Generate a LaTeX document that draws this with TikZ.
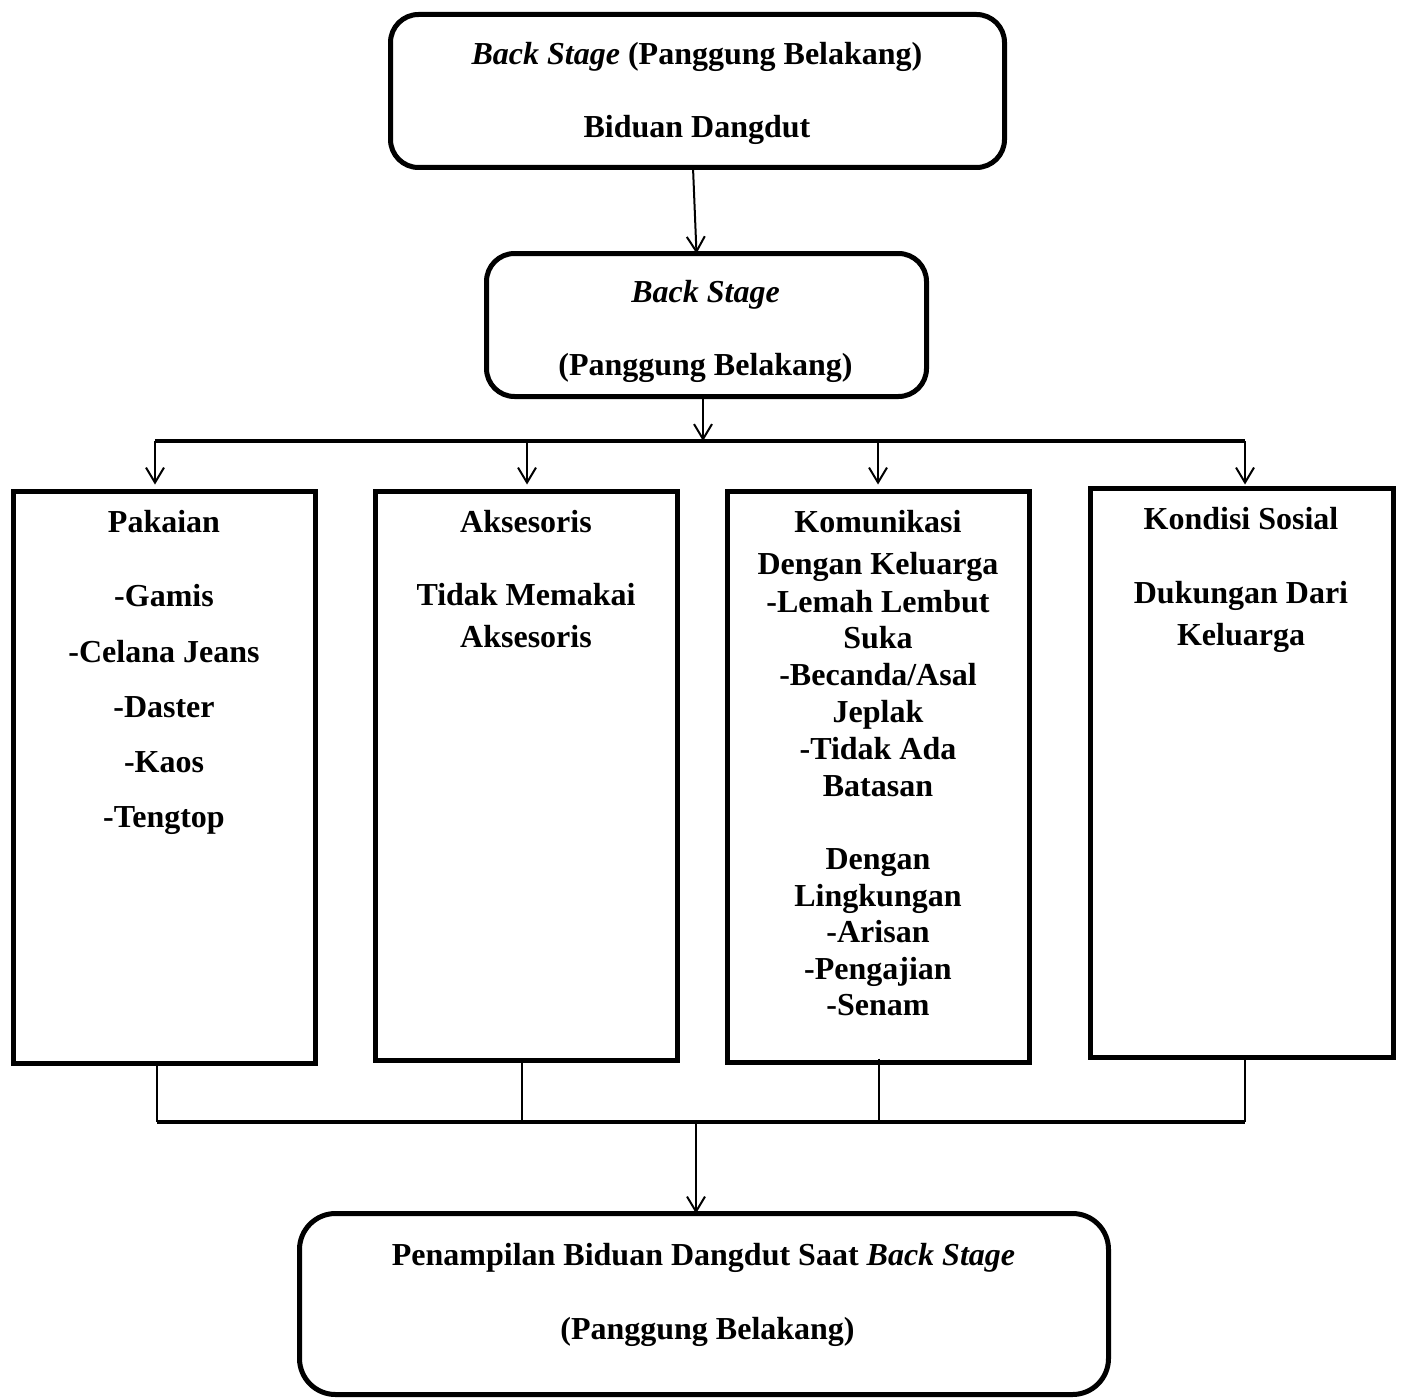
\documentclass[tikz,border=0pt]{standalone}
\usepackage{fontspec}
\setmainfont{Liberation Serif}
\usetikzlibrary{arrows.meta}
\begin{document}
\begin{tikzpicture}[x=1pt,y=-1pt,
  txt/.style={font=\fontsize{32}{37}\selectfont\bfseries, inner sep=0pt, text height=22pt, text depth=0pt, anchor=center},
  rbox/.style={draw, line width=5pt, rounded corners=28pt, inner sep=0pt, outer sep=0pt},
  sbox/.style={draw, line width=5pt, inner sep=0pt, outer sep=0pt},
  conn/.style={line width=2pt, -{Straight Barb[length=15pt,width=18pt,line width=2pt]}},
  thin/.style={line width=2pt},
  bar/.style={line width=3.5pt}
]
\useasboundingbox (0,0) rectangle (1405,1399);

% boxes
\node[rbox, minimum width=614pt, minimum height=153pt] (top) at (697.5,91) {};
\node[rbox, minimum width=440pt, minimum height=143pt] (mid) at (706.5,325) {};
\node[sbox, minimum width=302pt, minimum height=572pt] (b1) at (164.5,777.5) {};
\node[sbox, minimum width=302pt, minimum height=569pt] (b2) at (526.5,776) {};
\node[sbox, minimum width=302pt, minimum height=571pt] (b3) at (878.5,777) {};
\node[sbox, minimum width=303pt, minimum height=569pt] (b4) at (1242,773) {};
\node[rbox, rounded corners=36pt, minimum width=809pt, minimum height=181pt] (bot) at (704,1304) {};

% texts
\node[txt] (t1) at (697,54) {\textit{Back Stage} (Panggung Belakang)};
\node[txt] (t2) at (697,127) {Biduan Dangdut};
\node[txt] (m1) at (705.5,291) {\textit{Back Stage}};
\node[txt] (m2) at (705.5,364) {(Panggung Belakang)};

\node[txt] (p1) at (164,521) {Pakaian};
\node[txt] (p2) at (164,595) {-Gamis};
\node[txt] (p3) at (164,651) {-Celana Jeans};
\node[txt] (p4) at (164,706) {-Daster};
\node[txt] (p5) at (164,761) {-Kaos};
\node[txt] (p6) at (164,816) {-Tengtop};

\node[txt] (a1) at (526,521) {Aksesoris};
\node[txt] (a2) at (526,594) {Tidak Memakai};
\node[txt] (a3) at (526,636) {Aksesoris};

\node[txt] (c1) at (878,521) {Komunikasi};
\node[txt] (c2) at (878,563) {Dengan Keluarga};
\node[txt] (c3) at (878,601) {-Lemah Lembut};
\node[txt] (c4) at (878,637) {Suka};
\node[txt] (c5) at (878,674) {-Becanda/Asal};
\node[txt] (c6) at (878,711) {Jeplak};
\node[txt] (c7) at (878,748) {-Tidak Ada};
\node[txt] (c8) at (878,785) {Batasan};
\node[txt] (c9) at (878,858) {Dengan};
\node[txt] (c10) at (878,895) {Lingkungan};
\node[txt] (c11) at (878,931) {-Arisan};
\node[txt] (c12) at (878,968) {-Pengajian};
\node[txt] (c13) at (878,1004) {-Senam};

\node[txt] (k1) at (1241,518) {Kondisi Sosial};
\node[txt] (k2) at (1241,592) {Dukungan Dari};
\node[txt] (k3) at (1241,634) {Keluarga};

\node[txt] (z1) at (703.5,1254) {Penampilan Biduan Dangdut Saat \textit{Back Stage}};
\node[txt] (z2) at (707.5,1328) {(Panggung Belakang)};

% connectors top
\draw[conn] ([xshift=-4.5pt]top.south) -- ([xshift=-10pt]mid.north);
\coordinate (barL) at (155,441);
\coordinate (barR) at (1245,441);
\coordinate (barM) at (703,441);
\coordinate (barA) at (527,441);
\coordinate (barB) at (878,441);
\draw[bar] (barL) -- (barR);
\draw[conn] (mid.south -| barM) -- (barM);
\draw[conn, shorten >=7pt] (barL) -- (barL |- b1.north);
\draw[conn, shorten >=7pt] (barA) -- (barA |- b2.north);
\draw[conn, shorten >=7pt] (barB) -- (barB |- b3.north);
\draw[conn, shorten >=4pt] (barR) -- (barR |- b4.north);

% connectors bottom
\coordinate (lowL) at (157,1122);
\coordinate (lowA) at (522,1122);
\coordinate (lowB) at (879,1122);
\coordinate (lowR) at (1245,1122);
\coordinate (lowM) at (696,1122);
\draw[thin] (b1.south -| lowL) -- (lowL);
\draw[thin] (b2.south -| lowA) -- (lowA);
\draw[thin] ([yshift=4pt]b3.south -| lowB) -- (lowB);
\draw[thin] (b4.south -| lowR) -- (lowR);
\draw[bar] (lowL) -- (lowR);
\draw[conn] (lowM) -- (lowM |- bot.north);
\end{tikzpicture}
\end{document}
